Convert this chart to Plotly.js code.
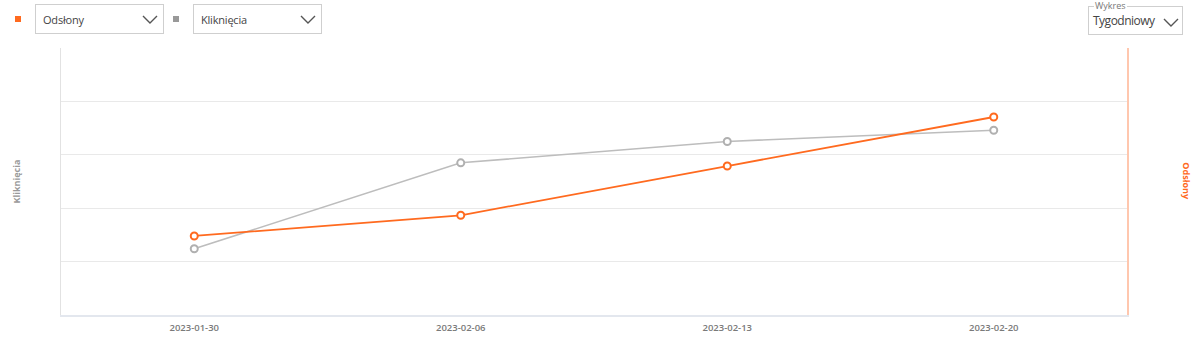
<!DOCTYPE html>
<html>
<head>
<meta charset="utf-8">
<script src="https://cdn.plot.ly/plotly-3.0.1.min.js"></script>
<style>
  html, body { margin:0; padding:0; background:#fff; width:1200px; height:346px; overflow:hidden; font-family:"Open Sans", sans-serif; }
  #chart { position:absolute; left:0; top:0; width:1200px; height:346px; }
  .ctl { position:absolute; z-index:5; }
  .sq { position:absolute; width:6px; height:6px; }
  .box { position:absolute; border:1px solid #cfcfcf; background:#fff; box-sizing:border-box; font-size:11px; color:#444; letter-spacing:-0.2px; }
  .box span { position:absolute; left:7px; top:7px; }
  .box svg { position:absolute; }
  .legend { position:absolute; left:5px; top:-7px; background:#fff; padding:0 1px; font-size:9px; color:#777; line-height:11px; letter-spacing:0; }
</style>
</head>
<body>
<div id="chart"></div>
<div class="sq ctl" style="left:15px;top:16px;background:#FF6A1F;"></div>
<div class="box ctl" style="left:35px;top:4px;width:129px;height:30px;"><span>Odsłony</span>
  <svg style="left:106px;top:10px" width="16" height="9"><polyline points="1,1 8,8 15,1" fill="none" stroke="#555" stroke-width="1.4"/></svg></div>
<div class="sq ctl" style="left:173px;top:16px;background:#999;"></div>
<div class="box ctl" style="left:193px;top:4px;width:129px;height:30px;"><span>Kliknięcia</span>
  <svg style="left:106px;top:10px" width="16" height="9"><polyline points="1,1 8,8 15,1" fill="none" stroke="#555" stroke-width="1.4"/></svg></div>
<div class="box ctl" style="left:1088px;top:6px;width:95px;height:29px;"><div class="legend">Wykres</div><span style="left:4px;top:5px;font-size:12px;letter-spacing:-0.5px;">Tygodniowy</span>
  <svg style="left:74px;top:11px" width="16" height="9"><polyline points="1,1 8,8 15,1" fill="none" stroke="#555" stroke-width="1.4"/></svg></div>
<script>
const weeks = ["2023-01-30", "2023-02-06", "2023-02-13", "2023-02-20"];
const clicks = [124, 285, 325, 346];
const views = [1480, 1867, 2790, 3708];

const orange = "#FF6A1F";
const grey = "#BDBDBD";

const data = [
  { x: weeks, y: clicks, name: "Kliknięcia", type: "scatter", mode: "lines+markers", yaxis: "y",
    line: { color: grey, width: 1.6 },
    marker: { symbol: "circle", size: 7, color: "#fff", line: { color: "#B0B0B0", width: 2 } },
    cliponaxis: false },
  { x: weeks, y: views, name: "Odsłony", type: "scatter", mode: "lines+markers", yaxis: "y2",
    line: { color: orange, width: 1.8 },
    marker: { symbol: "circle", size: 7, color: "#fff", line: { color: orange, width: 2 } },
    cliponaxis: false }
];

const layout = {
  width: 1200, height: 346,
  margin: { l: 61, r: 73, t: 48, b: 31, pad: 0 },
  paper_bgcolor: "#fff", plot_bgcolor: "#fff",
  showlegend: false,
  font: { family: "Open Sans, sans-serif" },
  xaxis: {
    type: "category", range: [-0.5, 3.5], showgrid: false, zeroline: false,
    showline: true, linecolor: "#E3E7EE", linewidth: 2,
    ticks: "", ticklabelstandoff: 3, tickfont: { size: 9.5, color: "#7A7A7A", weight: 600 }
  },
  yaxis: {
    range: [0, 500], dtick: 100, showgrid: true, gridcolor: "#E9E9E9", gridwidth: 1,
    zeroline: false, showline: true, linecolor: "#E2E2E2", linewidth: 1,
    showticklabels: false, ticks: ""
  },
  yaxis2: {
    overlaying: "y", side: "right", range: [0, 5000], dtick: 1000, showgrid: false,
    zeroline: false, showline: true, linecolor: "#FFC7AE", linewidth: 2,
    showticklabels: false, ticks: ""
  },
  annotations: [
    { text: "<b>Kliknięcia</b>", xref: "paper", yref: "paper", x: -0.0422, y: 0.5, textangle: -90,
      showarrow: false, font: { size: 9, color: "#9A9A9A" }, xanchor: "center", yanchor: "middle" },
    { text: "<b>Odsłony</b>", xref: "paper", yref: "paper", x: 1.0555, y: 0.5, textangle: 90,
      showarrow: false, font: { size: 9, color: orange }, xanchor: "center", yanchor: "middle" }
  ]
};

Plotly.newPlot("chart", data, layout, { displayModeBar: false, staticPlot: true });
</script>
</body>
</html>
